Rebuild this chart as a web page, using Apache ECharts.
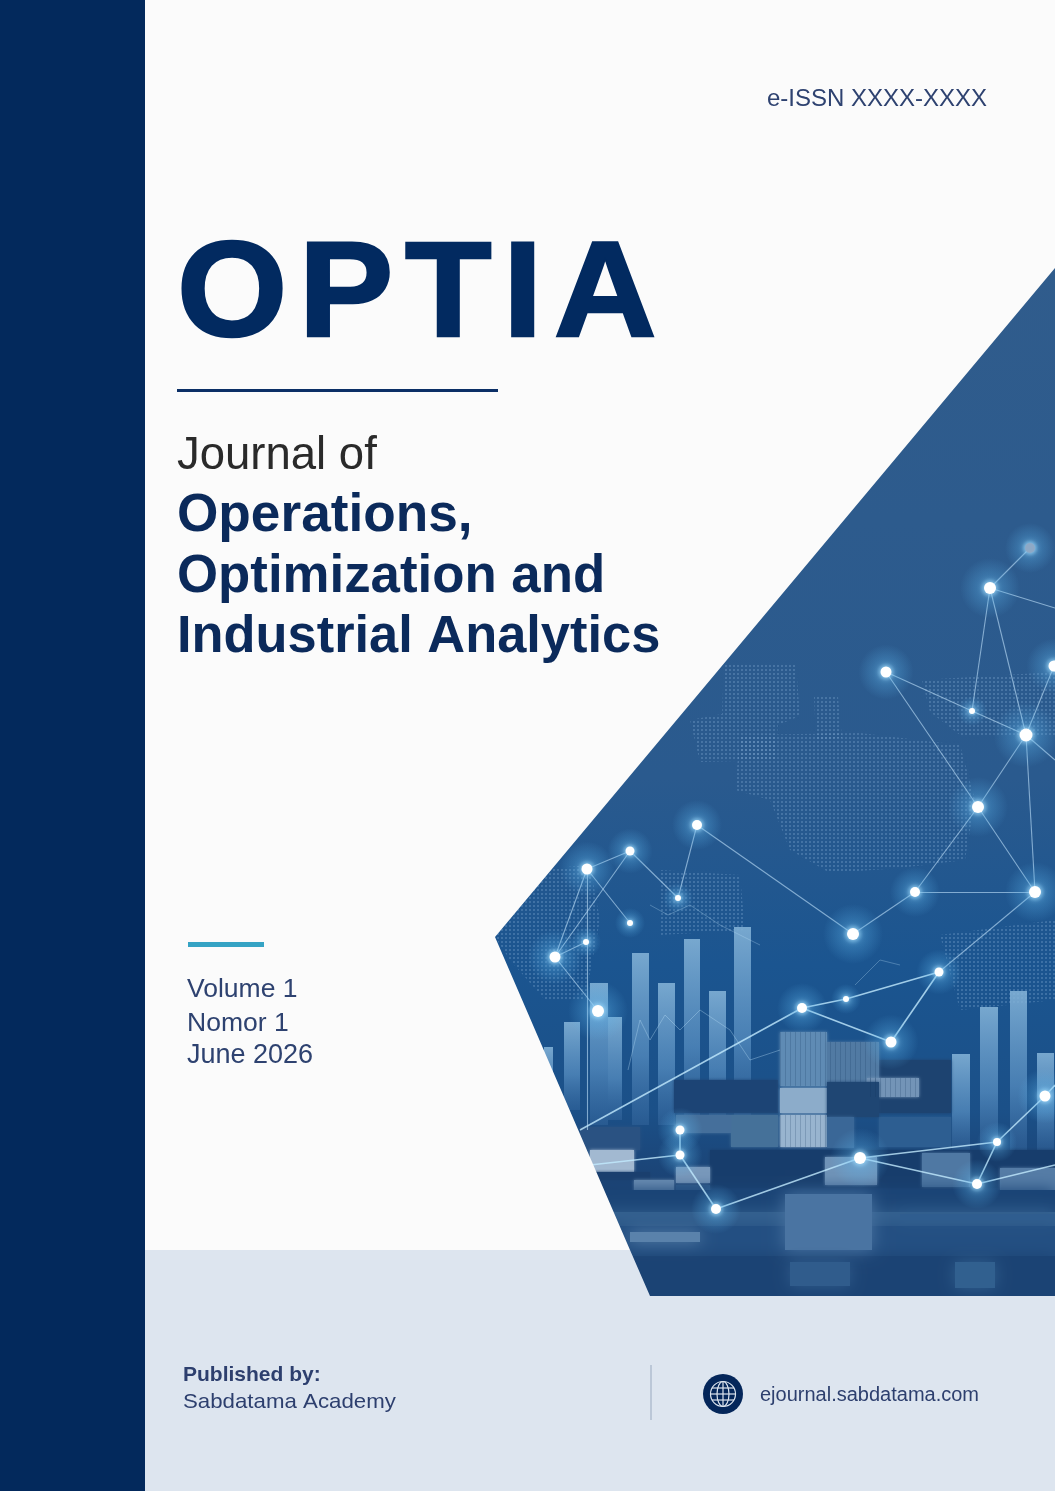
<!DOCTYPE html>
<html>
<head>
<meta charset="utf-8">
<title>OPTIA</title>
<style>
  html, body { margin: 0; padding: 0; background: #fbfbfb; }
  #main { width: 1055px; height: 1491px; }
</style>
<script src="https://cdn.jsdelivr.net/npm/echarts@6/dist/echarts.min.js"></script>
</head>
<body>
<div id="main"></div>
<script>
const heroRect = [[480, 260, 1055, 1296]];
const paperShape = [[145, 0], [1055, 0], [1055, 268], [495, 937], [630, 1250], [145, 1250]];
const footerShape = [[145, 1250], [630, 1250], [650, 1296], [1055, 1296], [1055, 1491], [145, 1491]];
const spineRect = [[0, 0, 145, 1491]];

// dotted world map patches
const mapPatches = [
  [[724, 663], [796, 665], [800, 716], [778, 725], [775, 760], [700, 762], [690, 720], [722, 714]],
  [[814, 697], [838, 697], [842, 738], [816, 740]],
  [[740, 735], [860, 733], [960, 745], [975, 800], [965, 860], [900, 868], [830, 873], [790, 850], [770, 800], [735, 790]],
  [[922, 680], [1055, 672], [1055, 735], [960, 735], [930, 712]],
  [[530, 870], [590, 865], [600, 920], [585, 1000], [545, 1000], [510, 960], [495, 937]],
  [[660, 870], [740, 875], [745, 930], [660, 935]],
  [[940, 935], [1055, 920], [1055, 1000], [960, 1010]]
];

// skyline bars
const barLeft = [544, 564, 590, 608, 632, 658, 684, 709, 734, 952, 980, 1010, 1037];
const barRight = [553, 580, 608, 622, 649, 675, 700, 726, 751, 970, 998, 1027, 1054];
const barTop = [1047, 1022, 983, 1017, 953, 983, 939, 991, 927, 1054, 1007, 991, 1053];
const barBase = [1115, 1110, 1125, 1120, 1125, 1125, 1120, 1120, 1120, 1150, 1150, 1150, 1150];

// containers and boats in the port
const portRects = [
  [674, 1080, 778, 1113], [879, 1060, 951, 1113], [879, 1117, 951, 1147],
  [780, 1032, 827, 1086], [780, 1088, 827, 1113], [780, 1115, 827, 1147],
  [827, 1042, 879, 1082], [867, 1078, 919, 1097], [827, 1082, 879, 1117],
  [731, 1115, 778, 1147], [676, 1115, 731, 1133], [827, 1117, 854, 1148],
  [710, 1150, 1055, 1188], [580, 1127, 640, 1150], [590, 1150, 634, 1172],
  [590, 1172, 650, 1180], [634, 1180, 674, 1197], [676, 1167, 710, 1183],
  [825, 1157, 877, 1185], [922, 1153, 970, 1187], [1000, 1168, 1055, 1190],
  [676, 1185, 710, 1215]
];
const portColors = [
  '#1c4475', '#1d4370', '#2d5e91',
  '#5f8bb4', '#8cacca', '#98b4cf',
  '#517aa3', '#7394b7', '#1f4673',
  '#457199', '#456f9b', '#3a6797',
  '#173d6c', '#2a5282', '#a2b9d1',
  '#1a3f6e', '#6b8eb3', '#7898bb',
  '#6f93b8', '#4f78a3', '#557ca6',
  '#325e8e'
];

// reflections on the water
const waterRects = [
  [600, 1190, 1055, 1212], [600, 1212, 1055, 1226], [600, 1226, 1055, 1256], [600, 1256, 1055, 1296],
  [785, 1194, 872, 1250], [630, 1232, 700, 1242], [900, 1214, 1055, 1220], [955, 1262, 995, 1288], [790, 1262, 850, 1286]
];
const waterColors = ['#1a4476', '#33608f', '#234f82', '#1b4374', '#4a74a2', '#5a82ab', '#2f5d8f', '#31608f', '#305c8c'];

// network nodes (the last ones with size 0 are where a line leaves the cover)
const nodeX = [1030, 990, 1054, 886, 972, 1026, 978, 915, 1035, 697, 630, 587, 678, 630, 853, 555, 586, 598, 939, 802, 846, 891, 1045, 680, 680, 860, 997, 977, 716, 1055, 1055, 580, 587, 590, 1055, 1055];
const nodeY = [548, 588, 666, 672, 711, 735, 807, 892, 892, 825, 851, 869, 898, 923, 934, 957, 942, 1011, 972, 1008, 999, 1042, 1096, 1130, 1155, 1158, 1142, 1184, 1209, 608, 760, 1130, 1130, 1165, 1085, 1165];
const nodeSize = [10, 12, 11, 11, 6, 13, 12, 10, 12, 10, 9, 11, 6, 6, 12, 11, 6, 12, 9, 10, 6, 11, 11, 9, 9, 12, 8, 10, 10, 0, 0, 0, 0, 0, 0, 0];
const upperEdges = [[0, 1], [1, 29], [1, 5], [1, 4], [3, 4], [3, 6], [4, 5], [5, 2], [5, 6], [5, 8], [5, 30], [6, 7], [6, 8], [7, 8], [7, 14], [8, 18], [9, 12], [9, 14], [10, 11], [10, 12], [10, 15], [11, 13], [11, 15], [11, 32], [15, 17], [15, 16]];
const lowerEdges = [[18, 20], [20, 19], [18, 21], [19, 21], [19, 31], [23, 24], [24, 28], [24, 33], [25, 28], [25, 26], [25, 27], [26, 27], [26, 22], [22, 34], [27, 35]];

// faint hand drawn looking trend lines over the map
const trendOne = [[628, 1070], [640, 1020], [650, 1040], [665, 1015], [680, 1030], [700, 1010], [730, 1030], [750, 1060], [780, 1050]];
const trendTwo = [[650, 905], [668, 915], [690, 905], [720, 925], [760, 945]];
const trendThree = [[855, 985], [880, 960], [900, 965]];

const titleText = 'OPTIA';
const issnText = 'e-ISSN XXXX-XXXX';
const journalLines = ['Operations,', 'Optimization and', 'Industrial Analytics'];
const issueLines = ['Volume 1', 'Nomor 1', 'June 2026'];

const SANS = '"Liberation Sans", Arial, sans-serif';
const NAVY = '#0b2a5b';
const SLATE = '#2e4270';
const TITLE_LAYER = 5;

// small tile for the dotted map
function dotPattern() {
  const c = document.createElement('canvas');
  c.width = 4; c.height = 4;
  const ctx = c.getContext('2d');
  ctx.fillStyle = 'rgba(135,175,215,0.3)';
  ctx.fillRect(1, 1, 2, 2);
  return { image: c, repeat: 'repeat' };
}

function stripePattern() {
  const c = document.createElement('canvas');
  c.width = 5; c.height = 5;
  const ctx = c.getContext('2d');
  ctx.fillStyle = 'rgba(15,50,90,0.2)';
  ctx.fillRect(0, 0, 1, 5);
  return { image: c, repeat: 'repeat' };
}

function rectItem(styleOf) {
  return function (params, api) {
    const a = api.coord([api.value(0), api.value(1)]);
    const b = api.coord([api.value(2), api.value(3)]);
    return {
      type: 'rect',
      shape: { x: a[0], y: a[1], width: b[0] - a[0], height: b[1] - a[1] },
      style: styleOf(params.dataIndex)
    };
  };
}

function polygonSeries(shapes, z, style) {
  return {
    type: 'custom', z: z, silent: true, animation: false,
    data: shapes.map((s, i) => [i]),
    renderItem: function (params, api) {
      return {
        type: 'polygon',
        shape: { points: shapes[params.dataIndex].map(p => api.coord(p)) },
        style: style
      };
    }
  };
}

function rectSeries(data, z, styleOf) {
  return { type: 'custom', z: z, silent: true, animation: false, data: data, renderItem: rectItem(styleOf) };
}

function edgeData(edges) {
  return edges.map(e => ({
    coords: [[nodeX[e[0]], nodeY[e[0]]], [nodeX[e[1]], nodeY[e[1]]]]
  }));
}

function text(str, x, y, size, weight, color, extra) {
  return Object.assign({
    type: 'text', x: x, y: y, z: 100, silent: true,
    style: {
      text: str, fill: color,
      font: weight + ' ' + size + 'px ' + SANS,
      verticalAlign: 'middle'
    }
  }, extra || {});
}

const barData = barLeft.map((x, i) => [x, barTop[i], barRight[i], barBase[i]]);
const nodeData = nodeX.map((x, i) => [x, nodeY[i], nodeSize[i]]).filter(d => d[2] > 0);

const titleElement = text(titleText, 177, 299, 135, 'bold', '#022a60', { scaleX: 1.05, zlevel: TITLE_LAYER });
titleElement.style.stroke = '#022a60';
titleElement.style.lineWidth = 2.5;

const chart = echarts.init(document.getElementById('main'));
chart.setOption({
  animation: false,
  backgroundColor: '#fbfbfb',
  grid: { left: 0, right: 0, top: 0, bottom: 0 },
  xAxis: { type: 'value', min: 0, max: 1055, show: false },
  yAxis: { type: 'value', min: 0, max: 1491, inverse: true, show: false },
  graphic: {
    elements: [
      text(issnText, 767, 99, 24, 'normal', SLATE),
      titleElement,
      text('Journal of', 177, 456, 45.5, 'normal', '#2a2a2a'),
      text(journalLines[0], 177, 516, 53.2, 'bold', NAVY),
      text(journalLines[1], 177, 577, 52.8, 'bold', NAVY),
      text(journalLines[2], 177, 638, 52.4, 'bold', NAVY),
      text(issueLines[0], 187, 990, 26.5, 'normal', SLATE),
      text(issueLines[1], 187, 1024, 26.5, 'normal', SLATE),
      text(issueLines[2], 187, 1056, 27, 'normal', SLATE),
      text('Published by:', 183, 1375, 21, 'bold', '#2d3f6e'),
      text('Sabdatama Academy', 183, 1402, 21, 'normal', '#2d3f6e', { scaleX: 1.06 }),
      text('ejournal.sabdatama.com', 760, 1395, 20, 'normal', '#2d3f6e')
    ]
  },
  series: [
    // picture panel, everything in it is cut by the paper and footer shapes drawn later
    rectSeries(heroRect, 1, () => ({
      fill: new echarts.graphic.LinearGradient(0, 0, 0, 1, [
        { offset: 0, color: '#305c8c' },
        { offset: 0.5, color: '#2a5a8e' },
        { offset: 0.68, color: '#1b5590' },
        { offset: 0.82, color: '#1b5088' },
        { offset: 0.9, color: '#1b4172' },
        { offset: 1, color: '#1e4a7c' }
      ])
    })),
    polygonSeries(mapPatches, 2, { fill: dotPattern() }),
    rectSeries(barData, 3, () => ({
      fill: new echarts.graphic.LinearGradient(0, 0, 0, 1, [
        { offset: 0, color: 'rgba(135,182,218,0.85)' },
        { offset: 0.6, color: 'rgba(95,150,200,0.65)' },
        { offset: 1, color: 'rgba(60,110,165,0.4)' }
      ])
    })),
    rectSeries(portRects, 4, i => ({ fill: portColors[i], shadowBlur: 3, shadowColor: portColors[i] })),
    rectSeries([portRects[3], portRects[6], portRects[7], portRects[5]], 5, () => ({ fill: stripePattern() })),
    rectSeries(waterRects, 4, i => ({ fill: waterColors[i], shadowBlur: 16, shadowColor: waterColors[i] })),
    {
      type: 'line', z: 6, silent: true, symbol: 'none', animation: false, data: trendOne,
      lineStyle: { color: 'rgba(190,225,250,0.35)', width: 1 }
    },
    {
      type: 'line', z: 6, silent: true, symbol: 'none', animation: false, data: trendTwo,
      lineStyle: { color: 'rgba(190,225,250,0.3)', width: 1 }
    },
    {
      type: 'line', z: 6, silent: true, symbol: 'none', animation: false, data: trendThree,
      lineStyle: { color: 'rgba(190,225,250,0.3)', width: 1 }
    },
    {
      type: 'lines', coordinateSystem: 'cartesian2d', z: 7, silent: true, animation: false,
      data: edgeData(upperEdges),
      lineStyle: { color: 'rgba(190,225,250,0.62)', width: 1.1, opacity: 1, curveness: 0 }
    },
    {
      type: 'lines', coordinateSystem: 'cartesian2d', z: 7, silent: true, animation: false,
      data: edgeData(lowerEdges),
      lineStyle: { color: 'rgba(195,235,255,0.8)', width: 1.6, opacity: 1, curveness: 0 }
    },
    {
      // halo
      type: 'scatter', z: 8, silent: true, animation: false, data: nodeData,
      symbolSize: v => v[2] * 5,
      itemStyle: {
        opacity: 1,
        color: new echarts.graphic.RadialGradient(0.5, 0.5, 0.5, [
          { offset: 0, color: 'rgba(125,210,255,0.8)' },
          { offset: 0.35, color: 'rgba(95,185,240,0.32)' },
          { offset: 1, color: 'rgba(95,185,240,0)' }
        ])
      }
    },
    {
      type: 'scatter', z: 9, silent: true, animation: false, data: nodeData,
      symbolSize: v => v[2],
      itemStyle: {
        opacity: 1,
        color: (p) => (p.dataIndex === 0 ? '#8ea9c6' : '#ffffff'),
        shadowBlur: 6, shadowColor: '#bfe8ff'
      }
    },
    // paper and footer go over the picture, that is what gives it the angled edge
    polygonSeries([paperShape], 20, { fill: '#fbfbfb' }),
    polygonSeries([footerShape], 20, { fill: '#dde5ef' }),
    rectSeries(spineRect, 21, () => ({ fill: '#03295c' })),
    // rules
    rectSeries([[177, 389, 498, 392]], 22, () => ({ fill: '#0b2f66' })),
    rectSeries([[188, 942, 264, 947]], 22, () => ({ fill: '#35a3c4' })),
    rectSeries([[650.5, 1365, 651.5, 1420]], 22, () => ({ fill: '#9aa9bf' })),
    {
      // globe
      type: 'custom', z: 22, silent: true, animation: false, data: [[723, 1394]],
      renderItem: function (params, api) {
        const c = api.coord([api.value(0), api.value(1)]);
        const line = { stroke: '#dde5ef', fill: null, lineWidth: 1.2 };
        return {
          type: 'group',
          children: [
            { type: 'circle', shape: { cx: c[0], cy: c[1], r: 20 }, style: { fill: '#04265a' } },
            { type: 'circle', shape: { cx: c[0], cy: c[1], r: 12.5 }, style: line },
            { type: 'ellipse', shape: { cx: c[0], cy: c[1], rx: 6, ry: 12.5 }, style: line },
            { type: 'line', shape: { x1: c[0], y1: c[1] - 12.5, x2: c[0], y2: c[1] + 12.5 }, style: line },
            { type: 'line', shape: { x1: c[0] - 12.5, y1: c[1], x2: c[0] + 12.5, y2: c[1] }, style: line },
            { type: 'line', shape: { x1: c[0] - 11, y1: c[1] - 6, x2: c[0] + 11, y2: c[1] - 6 }, style: line },
            { type: 'line', shape: { x1: c[0] - 11, y1: c[1] + 6, x2: c[0] + 11, y2: c[1] + 6 }, style: line }
          ]
        };
      }
    }
  ]
});

// the title is widely tracked and zrender has no letter spacing, so set it on its own layer
const zr = chart.getZr();
const titleLayer = zr.painter.getLayer(TITLE_LAYER);
titleLayer.ctx.letterSpacing = '11px';
zr.storage.getDisplayList().filter(el => el.zlevel === TITLE_LAYER).forEach(el => el.dirty());
zr.refreshImmediately();
</script>
</body>
</html>
